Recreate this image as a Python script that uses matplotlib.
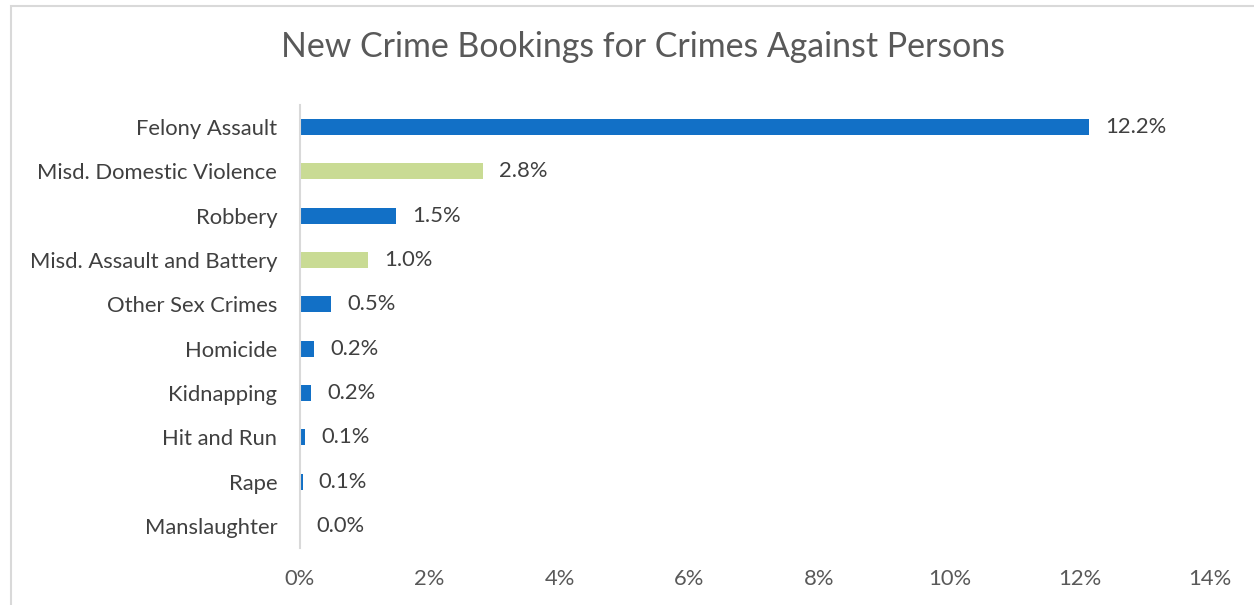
import matplotlib
matplotlib.use("Agg")
import matplotlib.pyplot as plt
from matplotlib.patches import Rectangle

categories = ["Felony Assault", "Misd. Domestic Violence", "Robbery",
              "Misd. Assault and Battery", "Other Sex Crimes", "Homicide",
              "Kidnapping", "Hit and Run", "Rape", "Manslaughter"]
values = [12.15, 2.83, 1.49, 1.05, 0.49, 0.23, 0.18, 0.09, 0.05, 0.01]
labels = ["12.2%", "2.8%", "1.5%", "1.0%", "0.5%", "0.2%", "0.2%", "0.1%", "0.1%", "0.0%"]
is_misd = [False, True, False, True, False, False, False, False, False, False]
xticks = [0, 2, 4, 6, 8, 10, 12, 14]
xticklabels = ["0%", "2%", "4%", "6%", "8%", "10%", "12%", "14%"]
title = "New Crime Bookings for Crimes Against Persons"

BLUE = "#1270C6"
GREEN = "#C9DB94"

plt.rcParams['font.family'] = ['Lato', 'DejaVu Sans']

W, H = 1254, 605
fig = plt.figure(figsize=(W / 100, H / 100), dpi=100)
# border
fig.patches.append(Rectangle((11 / W, -0.1), 1.2, (H - 6) / H + 0.1, transform=fig.transFigure,
                             fill=False, edgecolor="#D9D9D9", linewidth=1.5))

left, right = 299.5, 1209.5
top, bottom = 105, 548
ax = fig.add_axes([left / W, 1 - bottom / H, (right - left) / W, (bottom - top) / H])

n = len(categories)
ypos = list(range(n))
colors = [GREEN if m else BLUE for m in is_misd]
ax.barh(ypos, values, height=0.36, color=colors)
ax.set_ylim(n - 0.5, -0.5)
ax.set_xlim(0, 14)
ax.set_yticks(ypos)
ax.set_yticklabels(categories, fontsize=15.8, color="#404040")
ax.set_xticks(xticks)
ax.set_xticklabels(xticklabels, fontsize=15.8, color="#595959")
ax.tick_params(axis='both', length=0)
ax.tick_params(axis='y', pad=16)
ax.tick_params(axis='x', pad=15)
for s in ["top", "right", "bottom"]:
    ax.spines[s].set_visible(False)
ax.spines["left"].set_color("#D9D9D9")
ax.spines["left"].set_linewidth(1.5)

for y, v, lab in zip(ypos, values, labels):
    ax.annotate(lab, (v, y), xytext=(16, 0), textcoords="offset pixels",
                va="center", ha="left", fontsize=15.8, color="#404040")

fig.text((283 + 1003) / 2 / W, 1 - 47 / H, title, ha="center", va="center",
         fontsize=24.4, color="#595959")

fig.savefig("out.png", dpi=100)
